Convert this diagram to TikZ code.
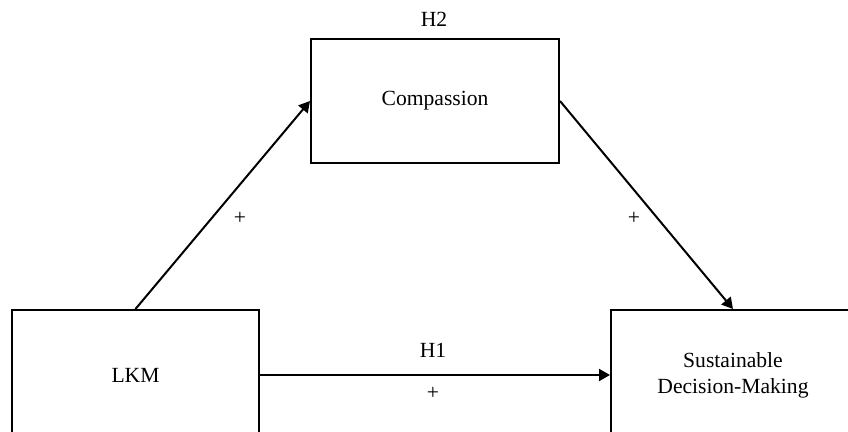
\documentclass[tikz,border=0pt]{standalone}
\usepackage{fontspec}
\setmainfont{Liberation Serif}
\usetikzlibrary{positioning,arrows.meta}
\tikzstyle{varbox} = [draw=black, line width=1pt, rectangle, align=center, inner sep=0pt]
\tikzstyle{link} = [line width=1pt, -{Triangle[length=5.5pt,width=6pt]}]
\tikzstyle{sign} = [inner sep=1pt]

\begin{document}
\begin{tikzpicture}[x=0.5pt, y=-0.5pt, font=\fontsize{10.8}{13}\selectfont]
    \useasboundingbox (0,0) rectangle (848,432);
    \node [varbox, minimum width=123.5pt, minimum height=65pt] (lkm) at (135.5,375) {LKM};
    \node [varbox, minimum width=124pt, minimum height=62pt] (comp) at (435,101) {Compassion};
    \node [varbox, minimum width=122pt, minimum height=65pt] (sdm) at (733,375) {Sustainable\\Decision-Making};
    \node [sign] (h2) at (434,19) {H2};
    % paths
    \draw [link] (lkm.north) -- (comp.west);
    \draw [link] (comp.east) -- (sdm.north);
    \draw [link] (lkm.east) -- (sdm.west);
    \node [sign] (plusa) at (240,218) {+};
    \node [sign] (plusb) at (634,218) {+};
    \node [sign] (h1) at (433,350) {H1};
    \node [sign] (plusc) at (433,393) {+};
\end{tikzpicture}
\end{document}
